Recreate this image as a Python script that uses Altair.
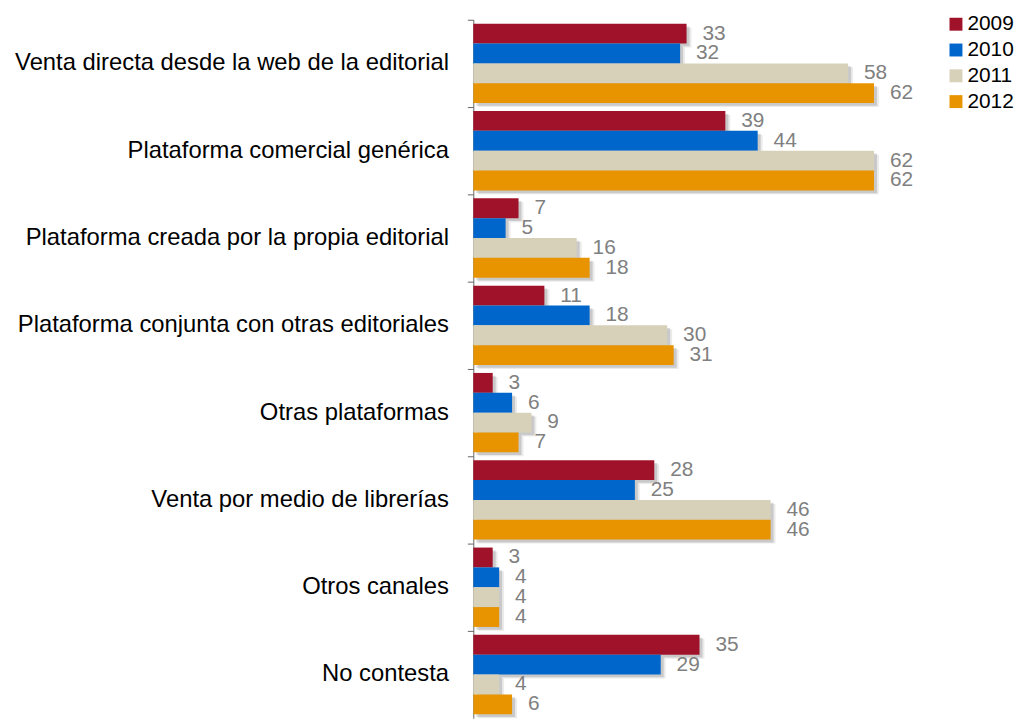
import altair as alt
import pandas as pd

categories = [
    "Venta directa desde la web de la editorial",
    "Plataforma comercial genérica",
    "Plataforma creada por la propia editorial",
    "Plataforma conjunta con otras editoriales",
    "Otras plataformas",
    "Venta por medio de librerías",
    "Otros canales",
    "No contesta",
]
years = ["2009", "2010", "2011", "2012"]
v2009 = [33, 39, 7, 11, 3, 28, 3, 35]
v2010 = [32, 44, 5, 18, 6, 25, 4, 29]
v2011 = [58, 62, 16, 30, 9, 46, 4, 4]
v2012 = [62, 62, 18, 31, 7, 46, 4, 6]
colors = ["#A01229", "#0066CC", "#D8D1BA", "#E89300"]

rows = []
for yr, vals in zip(years, [v2009, v2010, v2011, v2012]):
    for c, v in zip(categories, vals):
        rows.append({"Canal": c, "Año": yr, "Valor": v})
df = pd.DataFrame(rows)

BAND = 88
H = BAND * len(categories)
W = 456

y_enc = alt.Y(
    "Canal:N",
    sort=categories,
    scale=alt.Scale(paddingInner=0, paddingOuter=0),
    axis=alt.Axis(
        title=None,
        bandPosition=0,
        labelFontSize=24,
        labelFont="Liberation Sans",
        labelColor="#000000",
        labelPadding=19,
        tickSize=6,
        tickColor="#666666",
        domainColor="#666666",
        labelLimit=600,
        grid=False,
    ),
)


def yoff(align=0.5):
    return alt.YOffset(
        "Año:N",
        sort=years,
        scale=alt.Scale(type="band", paddingInner=0, paddingOuter=0.2, align=align),
    )


x_enc = alt.X("Valor:Q", scale=alt.Scale(domain=[0, 70]), axis=None)

base = alt.Chart(df)

shadow2 = base.mark_bar(color="#000000", opacity=0.08, xOffset=5).encode(
    y=y_enc, yOffset=yoff(1.0), x=x_enc
)
shadow1 = base.mark_bar(color="#000000", opacity=0.14, xOffset=3).encode(
    y=y_enc, yOffset=yoff(0.85), x=x_enc
)

bars = base.mark_bar().encode(
    y=y_enc,
    yOffset=yoff(0.5),
    x=x_enc,
    color=alt.Color(
        "Año:N",
        sort=years,
        scale=alt.Scale(domain=years, range=colors),
        legend=alt.Legend(
            title=None,
            orient="none",
            legendX=476,
            legendY=-6,
            symbolType="square",
            symbolSize=170,
            symbolStrokeWidth=0,
            labelFontSize=21,
            labelFont="Liberation Sans",
            labelColor="#000000",
            labelOffset=1,
            rowPadding=4,
            padding=0,
        ),
    ),
)

labels = base.mark_text(
    align="left", baseline="middle", dx=16, fontSize=21, font="Liberation Sans", color="#808080"
).encode(y=y_enc, yOffset=yoff(0.5), x=x_enc, text="Valor:Q")

main = alt.layer(bars, labels)

chart = (
    alt.layer(shadow2, shadow1, main)
    .resolve_scale(yOffset="independent")
    .properties(
        width=W,
        height=H,
        autosize=alt.AutoSizeParams(type="none"),
        padding={"left": 469, "top": 9, "right": 90, "bottom": 2},
    )
    .configure_view(stroke=None)
)

chart.save("out.html", embed_options={"renderer": "svg", "actions": False})
